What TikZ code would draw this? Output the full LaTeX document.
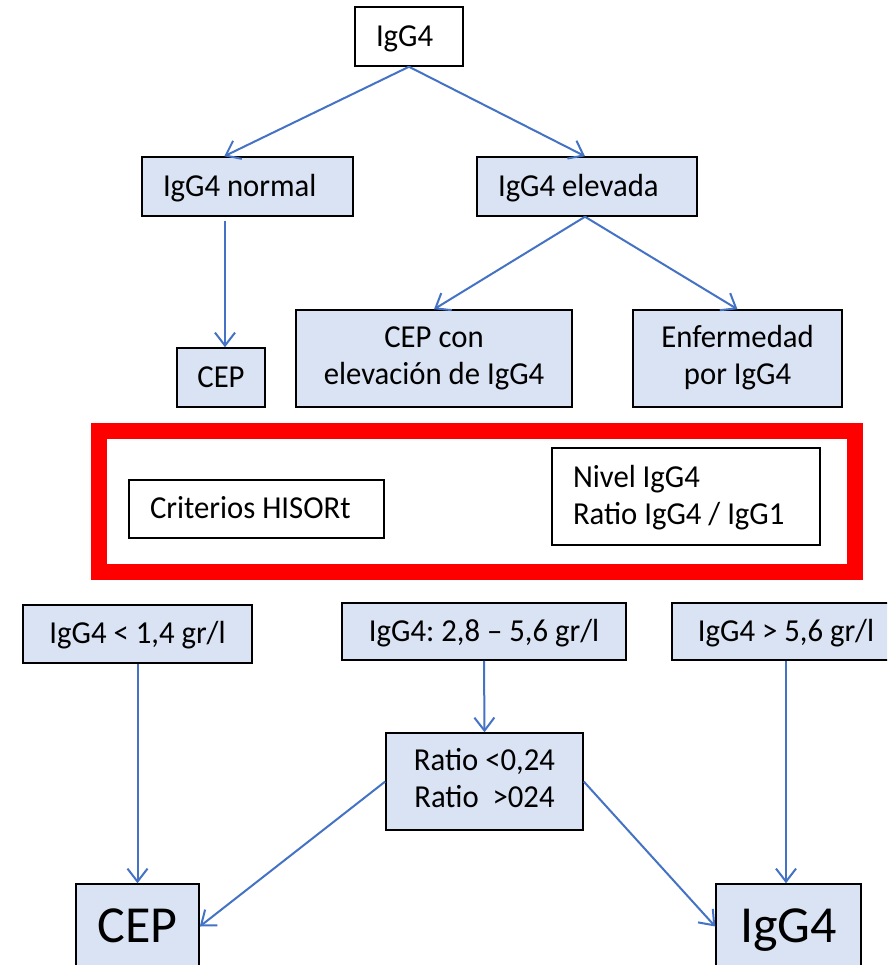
\documentclass[tikz,border=0pt]{standalone}
\usepackage{fontspec}
\setmainfont{Carlito}[FakeStretch=0.96]
\newfontfamily\bigfont{Carlito}
\usetikzlibrary{arrows.meta}
\definecolor{boxblue}{HTML}{DAE3F3}
\definecolor{linkblue}{HTML}{4472C4}
\definecolor{framered}{HTML}{FF0000}

\begin{document}
\begin{tikzpicture}[x=1pt,y=-1pt,
  every node/.style={inner sep=0pt, font=\fontsize{32}{37}\selectfont\frenchspacing, align=center,
    execute at begin node={\rule{0pt}{.8em}},
    execute at end node={\rule[-.2em]{0pt}{.2em}}},
  plainbox/.style={draw=black, line width=1.5pt, fill=white},
  bluebox/.style={draw=black, line width=1.5pt, fill=boxblue},
  lefttext/.style={align=flush left, inner xsep=21pt, text width=#1},
  bigtext/.style={font=\bigfont\fontsize{52}{62}\selectfont},
  link/.style={draw=linkblue, line width=2pt, -{Straight Barb[length=13pt,width=20pt]}}
]
\clip (0,0) rectangle (887,965);
\fill[white] (0,0) rectangle (887,965);

% upper tree
\node[plainbox, lefttext=66pt, minimum height=59pt] (top) at (409,36.5) {IgG4};
\node[bluebox, lefttext=169pt, minimum height=59pt] (normal) at (247.5,186.5) {IgG4 normal};
\node[bluebox, lefttext=178pt, minimum height=59pt] (elevada) at (587,186.5) {IgG4 elevada};
\node[bluebox, minimum width=88pt, minimum height=59pt] (cepsmall) at (221,377.5) {CEP};
\node[bluebox, minimum width=276pt, minimum height=97pt] (cepcon) at (434,358.5) {CEP con\\elevación de IgG4};
\node[bluebox, minimum width=209pt, minimum height=97pt] (enferm) at (737.5,358.5) {Enfermedad\\por IgG4};

% highlighted criteria
\node[draw=framered, line width=16pt, minimum width=756pt, minimum height=141pt] (frame) at (477,501.5) {};
\node[plainbox, lefttext=213pt, minimum height=58pt] (hisort) at (256.5,509) {Criterios HISORt};
\node[plainbox, lefttext=226pt, minimum height=97pt] (nivel) at (686,496.5) {Nivel IgG4\\Ratio IgG4 / IgG1};

% lower tree
\node[bluebox, minimum width=229pt, minimum height=58pt] (lt) at (137.5,634) {IgG4 < 1,4 gr/l};
\node[bluebox, minimum width=284pt, minimum height=57pt] (mid) at (484,631.5) {IgG4: 2,8 – 5,6 gr/l};
\node[bluebox, minimum width=228pt, minimum height=57pt] (gt) at (786,631.5) {IgG4 > 5,6 gr/l};
\node[bluebox, minimum width=197pt, minimum height=97pt] (ratio) at (484.5,781.5) {Ratio <0,24\\Ratio\ \ >024};
\node[bluebox, bigtext, minimum width=123pt, minimum height=85pt] (cepbig) at (137.5,926.5) {CEP};
\node[bluebox, bigtext, minimum width=145pt, minimum height=85pt] (igg4big) at (788.5,926.5) {IgG4};

% connectors
\draw[link] (top.south) -- ([xshift=83pt]normal.north west);
\draw[link] (top.south) -- ([xshift=-2pt]elevada.north);
\draw[link] ([xshift=-22.5pt,yshift=-4pt]normal.south) -- ([xshift=4pt]cepsmall.north);
\draw[link] ([xshift=-2pt]elevada.south) -- (cepcon.north);
\draw[link] ([xshift=-2pt]elevada.south) -- (enferm.north);
\draw[link] (lt.south) -- (cepbig.north);
\draw[link] (mid.south) -- (ratio.north);
\draw[link] (gt.south) -- (gt.south |- igg4big.north);
\draw[link] (ratio.west) -- (cepbig.east);
\draw[link] (ratio.east) -- (igg4big.west);
\end{tikzpicture}
\end{document}
